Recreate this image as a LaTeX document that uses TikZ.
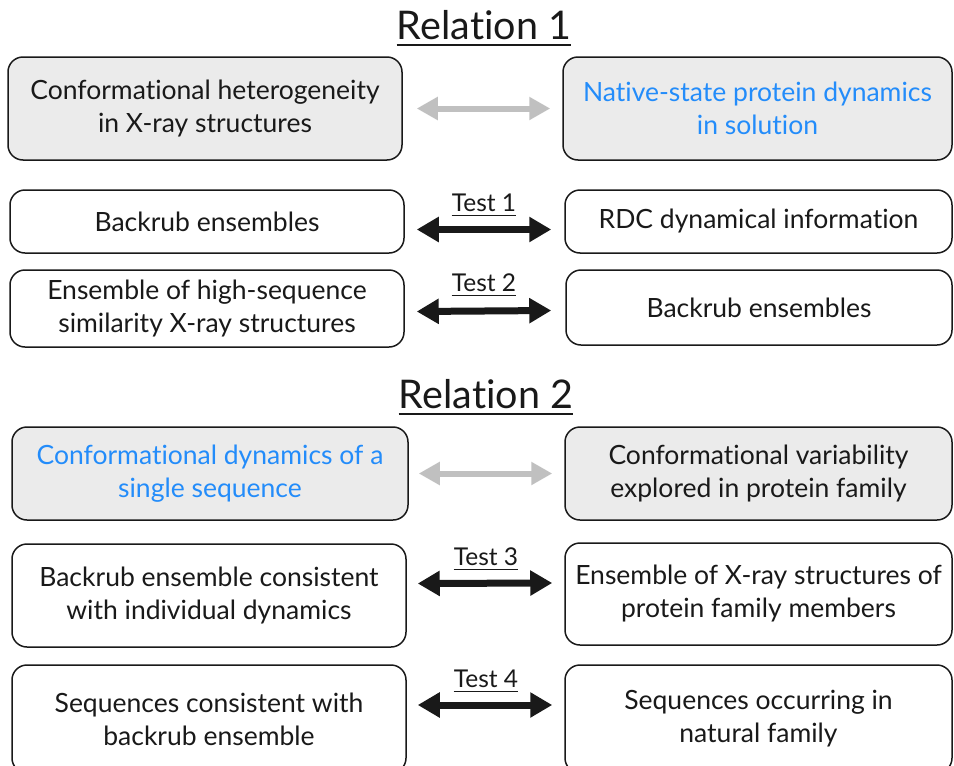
\documentclass[tikz,border=0pt]{standalone}
\usepackage{fontspec}
\setmainfont[Ligatures=NoCommon]{Lato}
\usetikzlibrary{arrows.meta}
\definecolor{boxgray}{RGB}{235,235,235}
\definecolor{txtblue}{RGB}{35,140,250}
\definecolor{arrgray}{RGB}{192,192,192}
\definecolor{ink}{RGB}{25,25,25}
\tikzset{
  box/.style={draw=ink, line width=1.5pt, rounded corners=15pt, align=center,
    text=ink, font=\fontsize{26.5}{33}\selectfont, inner sep=0pt},
  graybox/.style={box, fill=boxgray},
  blackarrow/.style={ink, line width=7pt, {Triangle[length=22pt,width=24pt]}-{Triangle[length=22pt,width=24pt]}},
  grayarrow/.style={arrgray, line width=6pt, {Triangle[length=21pt,width=22pt]}-{Triangle[length=21pt,width=22pt]}},
  reltitle/.style={font=\fontsize{39.5}{41}\selectfont, text=ink, inner xsep=0pt},
  testlabel/.style={font=\fontsize{24.5}{26}\selectfont, text=ink, inner xsep=0pt},
}
\begin{document}
\begin{tikzpicture}[x=1pt,y=-1pt]
\useasboundingbox (0,0) rectangle (954,766);
% Relation 1
\node[reltitle] (rel1) at (484,25) {Relation 1};
\draw[ink, line width=2pt] ([yshift=-6pt]rel1.base west) -- ([yshift=-6pt]rel1.base east);

\node[graybox, minimum width=394pt, minimum height=103pt] (a1) at (205,108.5) {Conformational heterogeneity\\in X-ray structures};
\node[graybox, minimum width=389pt, minimum height=103pt, text=txtblue] (a2) at (757.5,108.5) {Native-state protein dynamics\\in solution};
\draw[grayarrow] ([xshift=14pt]a1.east) -- ([xshift=-12pt]a2.west);

\node[box, minimum width=394pt, minimum height=63pt] (b1) at (207,221.5) {Backrub ensembles};
\node[box, minimum width=387pt, minimum height=63pt] (b2) at (758.5,221.5) {RDC dynamical information};
\draw[blackarrow] ([shift={(12pt,-8pt)}]b1.east) -- ([shift={(-13pt,-8pt)}]b2.west);
\node[testlabel] (t1) at (484,203) {Test 1};
\draw[ink, line width=1.3pt] ([yshift=-4pt]t1.base west) -- ([yshift=-4pt]t1.base east);

\node[box, minimum width=394pt, minimum height=77pt] (c1) at (207,308.5) {Ensemble of high-sequence\\similarity X-ray structures};
\node[box, minimum width=386pt, minimum height=75pt] (c2) at (759,307.5) {Backrub ensembles};
\draw[blackarrow] ([shift={(12pt,-3pt)}]c1.east) -- ([shift={(-14pt,-3pt)}]c2.west);
\node[testlabel] (t2) at (484,283) {Test 2};
\draw[ink, line width=1.3pt] ([yshift=-4pt]t2.base west) -- ([yshift=-4pt]t2.base east);

% Relation 2
\node[reltitle] (rel2) at (486,394) {Relation 2};
\draw[ink, line width=2pt] ([yshift=-6pt]rel2.base west) -- ([yshift=-6pt]rel2.base east);

\node[graybox, minimum width=396pt, minimum height=93pt, text=txtblue] (d1) at (210,473.5) {Conformational dynamics of a\\single sequence};
\node[graybox, minimum width=387pt, minimum height=93pt] (d2) at (758.5,473.5) {Conformational variability\\explored in protein family};
\draw[grayarrow] ([xshift=10pt]d1.east) -- ([xshift=-12pt]d2.west);

\node[box, minimum width=394pt, minimum height=103pt] (e1) at (209,595.5) {Backrub ensemble consistent\\with individual dynamics};
\node[box, minimum width=387pt, minimum height=102pt] (e2) at (758.5,594) {Ensemble of X-ray structures of\\protein family members};
\draw[blackarrow] ([shift={(11pt,12pt)}]e1.east) -- ([shift={(-12pt,11pt)}]e2.west);
\node[testlabel] (t3) at (486,557) {Test 3};
\draw[ink, line width=1.3pt] ([yshift=-4pt]t3.base west) -- ([yshift=-4pt]t3.base east);

\node[box, minimum width=394pt, minimum height=108pt] (f1) at (209,719) {Sequences consistent with\\backrub ensemble};
\node[box, minimum width=387pt, minimum height=108pt] (f2) at (758.5,719) {Sequences occurring in\\natural family};
\draw[blackarrow] ([shift={(11pt,14pt)}]f1.east) -- ([shift={(-12pt,14pt)}]f2.west);
\node[testlabel] (t4) at (486,679) {Test 4};
\draw[ink, line width=1.3pt] ([yshift=-4pt]t4.base west) -- ([yshift=-4pt]t4.base east);
\end{tikzpicture}
\end{document}
